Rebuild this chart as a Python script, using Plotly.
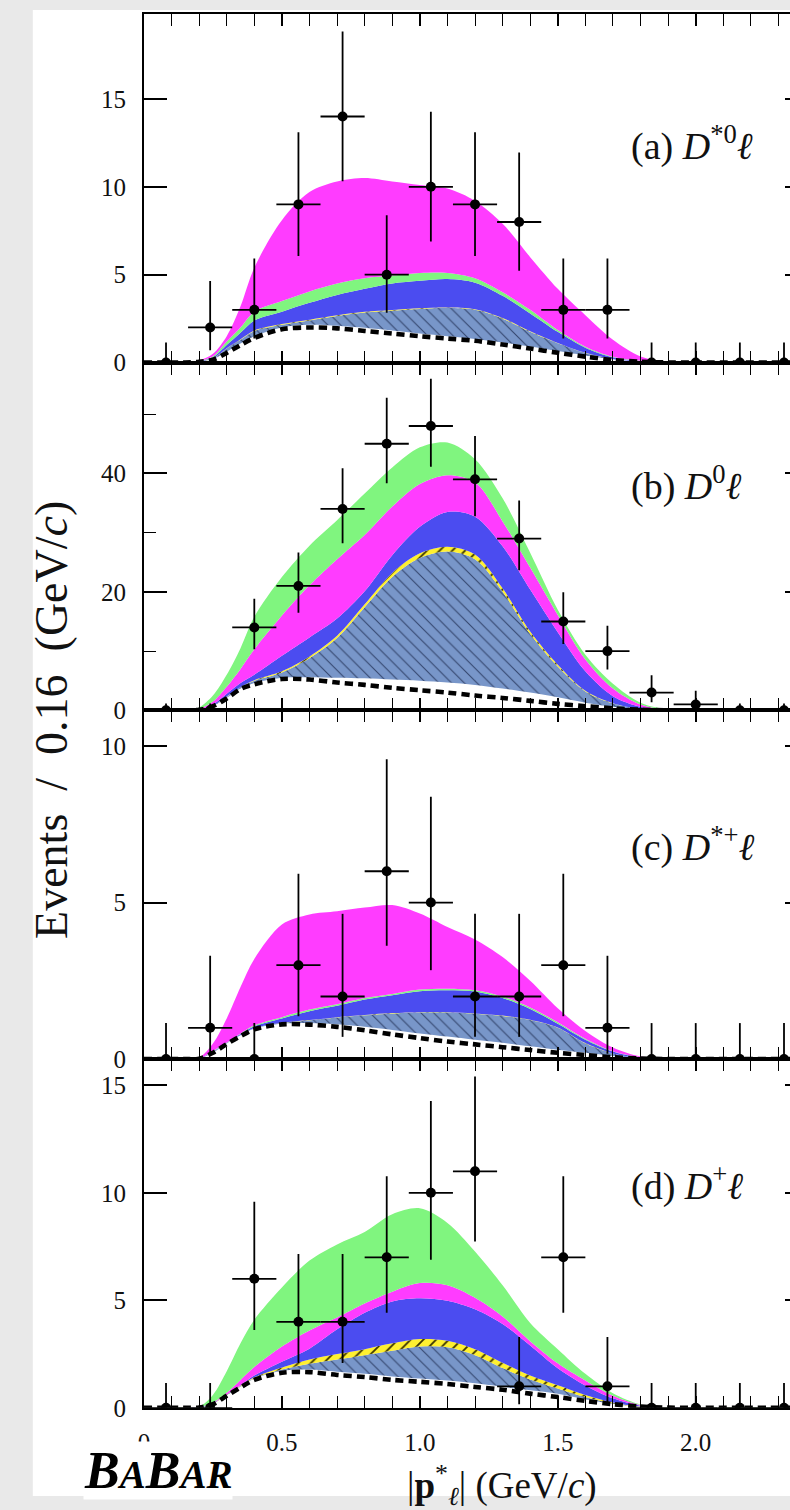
import plotly.graph_objects as go

# ---------------- data ----------------
bins = [0.08, 0.24, 0.40, 0.56, 0.72, 0.88, 1.04, 1.20, 1.36, 1.52, 1.68, 1.84, 2.00, 2.16, 2.32]
half_width = [0.08] * 15

a_n = [0, 2, 3, 9, 14, 5, 10, 9, 8, 3, 3, 0, 0, 0, 0]
a_hi = [1.15, 4.64, 5.92, 13.11, 18.83, 8.38, 14.27, 13.11, 11.95, 5.92, 5.92, 1.15, 1.15, 1.15, 1.15]
a_lo = [0, 0.71, 1.37, 6.06, 10.32, 2.84, 6.89, 6.06, 5.23, 1.37, 1.37, 0, 0, 0, 0]

b_n = [0, 0, 14, 21, 34, 45, 48, 39, 29, 15, 10, 3, 1, 0, 0]
b_hi = [1.15, 1.15, 18.83, 26.65, 40.88, 52.75, 55.97, 46.30, 35.44, 19.95, 14.27, 5.92, 3.30, 1.15, 1.15]
b_lo = [0, 0, 10.32, 16.46, 28.2, 38.32, 41.10, 32.78, 23.65, 11.18, 6.89, 1.37, 0.17, 0, 0]

c_n = [0, 1, 0, 3, 2, 6, 5, 2, 2, 3, 1, 0, 0, 0, 0]
c_hi = [1.15, 3.30, 1.15, 5.92, 4.64, 9.58, 8.38, 4.64, 4.64, 5.92, 3.30, 1.15, 1.15, 1.15, 1.15]
c_lo = [0, 0.17, 0, 1.37, 0.71, 3.62, 2.84, 0.71, 0.71, 1.37, 0.17, 0, 0, 0, 0]

d_n = [0, 0, 6, 4, 4, 7, 10, 11, 1, 7, 1, 0, 0, 0, 0]
d_hi = [1.15, 1.15, 9.58, 7.16, 7.16, 10.77, 14.27, 15.41, 3.30, 10.77, 3.30, 1.15, 1.15, 1.15, 1.15]
d_lo = [0, 0, 3.62, 2.09, 2.09, 4.42, 6.89, 7.74, 0.17, 4.42, 0.17, 0, 0, 0, 0]

# curve sample points (cumulative stack tops)
X = [0, 0.1, 0.15, 0.2, 0.25, 0.3, 0.35, 0.4, 0.5, 0.6, 0.7, 0.8, 0.9, 1.0, 1.1, 1.2,
     1.3, 1.4, 1.5, 1.6, 1.7, 1.8, 1.9, 2.0, 2.4]

a_dash = [0, 0, 0.01, 0.05, 0.17, 0.55, 1.0, 1.4, 1.9, 2.0, 1.95, 1.8, 1.65, 1.5, 1.37, 1.24, 1.03, 0.8, 0.56, 0.34, 0.15, 0.05, 0.01, 0, 0]
a_white = [0, 0, 0.01, 0.06, 0.19, 0.62, 1.08, 1.5, 2.0, 2.15, 2.1, 1.98, 1.82, 1.65, 1.5, 1.35, 1.15, 0.92, 0.66, 0.41, 0.19, 0.06, 0.01, 0, 0]
a_hatch = [0, 0, 0.01, 0.07, 0.24, 0.8, 1.3, 1.8, 2.15, 2.4, 2.65, 2.85, 2.95, 3.05, 3.1, 3.0, 2.5, 1.75, 1.1, 0.55, 0.2, 0.06, 0.01, 0, 0]
a_yellow = [0, 0, 0.01, 0.07, 0.25, 0.82, 1.33, 1.83, 2.19, 2.44, 2.69, 2.89, 2.99, 3.09, 3.14, 3.04, 2.54, 1.78, 1.12, 0.56, 0.21, 0.06, 0.01, 0, 0]
a_blue = [0, 0, 0.01, 0.08, 0.3, 1.0, 1.7, 2.4, 2.9, 3.4, 3.85, 4.2, 4.5, 4.65, 4.75, 4.55, 3.8, 2.8, 1.75, 0.85, 0.3, 0.08, 0.01, 0, 0]
a_green = [0, 0, 0.01, 0.09, 0.36, 1.2, 2.0, 2.9, 3.5, 4.05, 4.5, 4.8, 4.95, 5.1, 5.1, 4.8, 4.0, 3.0, 1.85, 0.9, 0.33, 0.1, 0.01, 0, 0]
a_mag = [0, 0, 0.02, 0.12, 0.5, 1.5, 3.2, 5.4, 8.1, 9.7, 10.3, 10.5, 10.3, 10.1, 9.9, 9.2, 7.9, 6.0, 4.2, 2.7, 1.3, 0.35, 0.03, 0, 0]

b_dash = [0, 0, 0.02, 0.1, 0.7, 2.0, 3.6, 4.4, 5.3, 5.2, 4.7, 4.3, 3.8, 3.4, 3.0, 2.5, 2.1, 1.6, 1.1, 0.7, 0.35, 0.1, 0.02, 0, 0]
b_white = [0, 0, 0.02, 0.1, 0.75, 2.1, 3.7, 4.6, 5.5, 5.6, 5.5, 5.4, 5.2, 5.0, 4.7, 4.3, 3.7, 3.0, 2.2, 1.3, 0.6, 0.18, 0.02, 0, 0]
b_hatch = [0, 0, 0.02, 0.12, 0.8, 2.3, 3.9, 5.0, 6.4, 8.8, 12.2, 17.4, 22.5, 25.7, 26.8, 25.5, 20.0, 12.9, 7.4, 3.2, 1.15, 0.24, 0.03, 0, 0]
b_yellow = [0, 0, 0.02, 0.12, 0.82, 2.35, 3.95, 5.1, 6.6, 9.1, 12.6, 17.9, 23.2, 26.5, 27.6, 26.3, 20.6, 13.3, 7.7, 3.3, 1.2, 0.25, 0.03, 0, 0]
b_blue = [0, 0, 0.03, 0.15, 1.0, 2.8, 4.6, 6.0, 9.2, 12.3, 15.5, 20.1, 26.2, 31.0, 33.5, 32.7, 27.7, 20.4, 13.2, 6.6, 2.4, 0.6, 0.05, 0, 0]
b_mag = [0, 0, 0.05, 0.25, 1.5, 4.0, 7.0, 10.3, 16.0, 21.1, 25.5, 29.6, 34.4, 38.2, 39.7, 38.5, 31.9, 24.1, 16.1, 8.6, 3.7, 1.0, 0.1, 0, 0]
b_green = [0, 0, 0.08, 0.5, 2.5, 6.0, 10.5, 15.8, 22.5, 27.8, 32.1, 36.6, 41.0, 44.4, 45.2, 42.4, 35.8, 26.6, 17.0, 9.4, 4.5, 1.3, 0.15, 0, 0]

c_dash = [0, 0, 0, 0.01, 0.2, 0.48, 0.73, 0.95, 1.11, 1.1, 1.03, 0.92, 0.79, 0.67, 0.56, 0.47, 0.38, 0.29, 0.2, 0.13, 0.06, 0.02, 0, 0, 0]
c_white = [0, 0, 0, 0.01, 0.21, 0.5, 0.76, 0.98, 1.13, 1.15, 1.11, 1.03, 0.93, 0.82, 0.72, 0.62, 0.52, 0.41, 0.3, 0.2, 0.1, 0.03, 0, 0, 0]
c_hatch = [0, 0, 0, 0.01, 0.22, 0.51, 0.77, 0.99, 1.15, 1.24, 1.33, 1.4, 1.46, 1.49, 1.49, 1.45, 1.38, 1.25, 1.0, 0.5, 0.18, 0.03, 0, 0, 0]
c_yellow = [0, 0, 0, 0.01, 0.22, 0.51, 0.77, 0.99, 1.16, 1.25, 1.34, 1.41, 1.47, 1.5, 1.5, 1.46, 1.39, 1.26, 1.01, 0.51, 0.18, 0.03, 0, 0, 0]
c_blue = [0, 0, 0, 0.02, 0.24, 0.52, 0.8, 1.05, 1.3, 1.53, 1.7, 1.9, 2.04, 2.17, 2.2, 2.16, 1.95, 1.6, 1.13, 0.62, 0.24, 0.05, 0.01, 0, 0]
c_green = [0, 0, 0, 0.02, 0.26, 0.53, 0.82, 1.08, 1.34, 1.58, 1.75, 1.95, 2.08, 2.22, 2.25, 2.2, 2.0, 1.65, 1.18, 0.65, 0.25, 0.06, 0.01, 0, 0]
c_mag = [0, 0, 0.01, 0.05, 0.5, 1.3, 2.3, 3.2, 4.3, 4.62, 4.72, 4.84, 4.92, 4.65, 4.22, 3.82, 3.26, 2.5, 1.62, 0.9, 0.37, 0.08, 0.01, 0, 0]

d_dash = [0, 0, 0, 0.01, 0.17, 0.56, 0.95, 1.3, 1.63, 1.66, 1.53, 1.43, 1.3, 1.21, 1.11, 0.97, 0.84, 0.66, 0.5, 0.32, 0.17, 0.06, 0.01, 0, 0]
d_white = [0, 0, 0, 0.01, 0.18, 0.58, 0.98, 1.35, 1.72, 1.78, 1.68, 1.58, 1.46, 1.36, 1.27, 1.14, 0.98, 0.82, 0.66, 0.4, 0.18, 0.06, 0.01, 0, 0]
d_hatch = [0, 0, 0, 0.01, 0.19, 0.6, 1.0, 1.38, 1.78, 2.05, 2.25, 2.45, 2.65, 2.85, 2.82, 2.45, 1.85, 1.32, 0.9, 0.5, 0.2, 0.05, 0.01, 0, 0]
d_yellow = [0, 0, 0, 0.01, 0.2, 0.62, 1.03, 1.42, 1.88, 2.25, 2.5, 2.73, 3.0, 3.2, 3.12, 2.73, 2.1, 1.5, 1.05, 0.6, 0.25, 0.06, 0.01, 0, 0]
d_blue = [0, 0, 0, 0.02, 0.22, 0.62, 1.05, 1.5, 2.14, 2.75, 3.65, 4.42, 4.95, 5.1, 4.98, 4.58, 3.9, 2.9, 1.84, 1.04, 0.44, 0.1, 0.01, 0, 0]
d_mag = [0, 0, 0, 0.03, 0.25, 0.7, 1.3, 1.9, 2.85, 3.6, 4.2, 4.85, 5.4, 5.8, 5.7, 5.12, 4.25, 3.1, 2.07, 1.27, 0.56, 0.13, 0.01, 0, 0]
d_green = [0, 0, 0, 0.05, 0.6, 1.7, 3.0, 4.1, 5.6, 6.85, 7.6, 8.18, 9.0, 9.28, 8.6, 7.27, 5.7, 3.95, 2.73, 1.58, 0.68, 0.16, 0.02, 0, 0]

panel_labels = ["(a) <i>D</i><sup>*0</sup><i>ℓ</i>", "(b) <i>D</i><sup>0</sup><i>ℓ</i>",
                "(c) <i>D</i><sup>*+</sup><i>ℓ</i>", "(d) <i>D</i><sup>+</sup><i>ℓ</i>"]
y_ranges = [19.84, 58.7, 11.14, 16.22]
y_ticks = [[0, 5, 10, 15], [0, 20, 40], [0, 5, 10], [0, 5, 10, 15]]
x_tickvals = [0, 0.5, 1.0, 1.5, 2.0]
x_ticktext = ["0", "0.5", "1.0", "1.5", "2.0"]

# ---------------- style ----------------
W, H = 790, 1510
FONT = "Liberation Serif"
MAG = "#ff3cff"
GREEN = "#80f57f"
BLUE = "#4b4cf0"
SLATE = "#7896c9"
YELLOW = "#fff030"

px_left, px_right = 139, 790
panel_px = [(14, 366), (366, 717), (717, 1069), (1069, 1421)]

panels = [
    dict(n=a_n, hi=a_hi, lo=a_lo, dash=a_dash, white=a_white, hatch=a_hatch, yellow=a_yellow,
         blue=a_blue, layers=[(a_green, GREEN), (a_mag, MAG)]),
    dict(n=b_n, hi=b_hi, lo=b_lo, dash=b_dash, white=b_white, hatch=b_hatch, yellow=b_yellow,
         blue=b_blue, layers=[(b_mag, MAG), (b_green, GREEN)]),
    dict(n=c_n, hi=c_hi, lo=c_lo, dash=c_dash, white=c_white, hatch=c_hatch, yellow=c_yellow,
         blue=c_blue, layers=[(c_green, GREEN), (c_mag, MAG)]),
    dict(n=d_n, hi=d_hi, lo=d_lo, dash=d_dash, white=d_white, hatch=d_hatch, yellow=d_yellow,
         blue=d_blue, layers=[(d_mag, MAG), (d_green, GREEN)]),
]

fig = go.Figure()
spl = dict(shape="spline", smoothing=0.9, width=0)

for i, p in enumerate(panels):
    xa = "x" if i == 0 else f"x{i+1}"
    ya = "y" if i == 0 else f"y{i+1}"
    common = dict(xaxis=xa, yaxis=ya, hoverinfo="skip", showlegend=False, mode="lines")
    fig.add_trace(go.Scatter(x=X, y=p["white"], line=dict(color="white", **spl), **common))
    fig.add_trace(go.Scatter(x=X, y=p["hatch"], fill="tonexty", fillcolor=SLATE,
                             fillpattern=dict(shape="\\", bgcolor=SLATE, fgcolor="#34466e",
                                              size=9, solidity=0.12, fillmode="replace"),
                             line=dict(color=SLATE, **spl), **common))
    fig.add_trace(go.Scatter(x=X, y=p["yellow"], fill="tonexty", fillcolor=YELLOW,
                             fillpattern=dict(shape="/", bgcolor=YELLOW, fgcolor="#3a3300",
                                              size=9, solidity=0.2, fillmode="replace"),
                             line=dict(color=YELLOW, **spl), **common))
    fig.add_trace(go.Scatter(x=X, y=p["blue"], fill="tonexty", fillcolor=BLUE,
                             line=dict(color=BLUE, **spl), **common))
    for vals, col in p["layers"]:
        fig.add_trace(go.Scatter(x=X, y=vals, fill="tonexty", fillcolor=col,
                                 line=dict(color=col, **spl), **common))
    fig.add_trace(go.Scatter(x=X, y=p["dash"],
                             line=dict(color="black", width=4.6, dash="8px,5px",
                                       shape="spline", smoothing=0.9), **common))
    err_up = [h - v for h, v in zip(p["hi"], p["n"])]
    err_dn = [v - l for v, l in zip(p["n"], p["lo"])]
    fig.add_trace(go.Scatter(
        x=bins, y=p["n"], mode="markers", xaxis=xa, yaxis=ya, showlegend=False,
        marker=dict(color="black", size=10),
        error_x=dict(type="data", array=half_width, color="black", thickness=1.8, width=0),
        error_y=dict(type="data", array=err_up, arrayminus=err_dn, color="black",
                     thickness=1.8, width=0)))
    # invisible trace for right-hand tick stubs
    fig.add_trace(go.Scatter(x=[0], y=[0], mode="markers", marker=dict(opacity=0),
                             xaxis=xa, yaxis=f"y{i+5}", hoverinfo="skip", showlegend=False))

layout = dict(
    width=W, height=H, margin=dict(l=0, r=0, t=0, b=0),
    paper_bgcolor="#e9e9e9", plot_bgcolor="rgba(0,0,0,0)",
    font=dict(family=FONT, color="black", size=24),
    shapes=[dict(type="rect", xref="paper", yref="paper", x0=27 / W, x1=1, y0=0,
                 y1=1 - 10 / H, fillcolor="white", line=dict(width=0), layer="below")],
)

xrange = [0, (px_right - px_left) / 278.0]
xdom = [px_left / W, 1.0]
for i in range(4):
    top, bot = panel_px[i]
    ydom = [1 - bot / H, 1 - top / H]
    xk = "xaxis" if i == 0 else f"xaxis{i+1}"
    yk = "yaxis" if i == 0 else f"yaxis{i+1}"
    ya = "y" if i == 0 else f"y{i+1}"
    xa = "x" if i == 0 else f"x{i+1}"
    layout[xk] = dict(
        domain=xdom, range=xrange, anchor=ya, showline=True, linewidth=2, linecolor="black",
        mirror="allticks", ticks="inside", ticklen=12, tickwidth=1.6, tickcolor="black",
        tickvals=x_tickvals, ticktext=x_ticktext, showticklabels=(i == 3),
        ticklabelstandoff=11, showgrid=False, zeroline=False, fixedrange=True,
        tickfont=dict(family=FONT, size=25, color="#111"),
        minor=dict(dtick=0.1, tick0=0, ticks="inside", ticklen=6, tickwidth=1.4,
                   tickcolor="black", showgrid=False),
    )
    ydict = dict(
        domain=ydom, range=[0, y_ranges[i]], anchor=xa, showline=True, linewidth=2,
        linecolor="black", mirror=False, ticks="inside", ticklen=23, tickwidth=1.6,
        tickcolor="black", tickvals=y_ticks[i], ticklabelstandoff=11, showgrid=False,
        zeroline=False, fixedrange=True, tickfont=dict(family=FONT, size=25, color="#111"),
    )
    if i == 1:
        ydict["minor"] = dict(tickvals=[10, 30, 50], ticks="inside", ticklen=12,
                              tickwidth=1.4, tickcolor="black", showgrid=False)
    layout[yk] = ydict
    layout[f"yaxis{i+5}"] = dict(
        overlaying=ya, side="right", anchor=xa, range=[0, y_ranges[i]], tickvals=y_ticks[i],
        ticks="inside", ticklen=5, tickwidth=1.6, tickcolor="black", showline=False,
        showticklabels=False, showgrid=False, zeroline=False, fixedrange=True,
    )

label_y = [145, 488, 852, 1195]
annotations = []
for i in range(4):
    annotations.append(dict(text=panel_labels[i], xref="paper", yref="paper",
                            x=628 / W, y=1 - label_y[i] / H, xanchor="left", yanchor="middle",
                            showarrow=False, font=dict(family=FONT, size=38, color="#111")))
annotations.append(dict(text="Events  /  0.16  (GeV/<i>c</i>)", xref="paper", yref="paper",
                        x=46 / W, y=1 - 727 / H, textangle=-90, xanchor="center",
                        yanchor="middle", showarrow=False,
                        font=dict(family=FONT, size=46, color="#111")))
annotations.append(dict(text="|<b>p</b><sup>*</sup><sub><i>ℓ</i></sub>| (GeV/<i>c</i>)",
                        xref="paper", yref="paper", x=500 / W, y=1 - 1499 / H,
                        xanchor="center", yanchor="middle", showarrow=False,
                        font=dict(family=FONT, size=37, color="#111")))
annotations.append(dict(
    text="<b><i>B<span style='font-size:39px'>A</span>B<span style='font-size:39px'>AR</span></i></b>",
    xref="paper", yref="paper", x=78 / W, y=1 - 1484 / H, xanchor="left", yanchor="middle",
    showarrow=False, bgcolor="white", borderpad=0,
    font=dict(family=FONT, size=52, color="black")))
layout["annotations"] = annotations

fig.update_layout(**layout)
fig.write_html("out.html")
